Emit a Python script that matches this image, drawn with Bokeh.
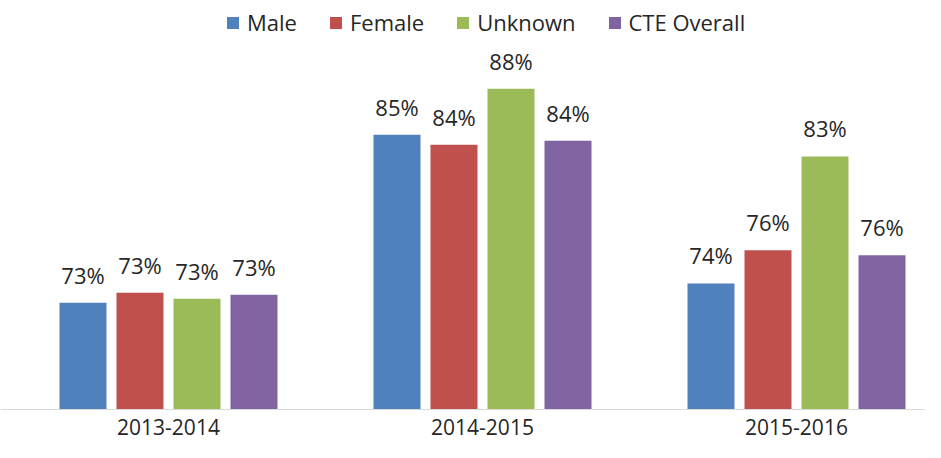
from bokeh.plotting import figure
from bokeh.models import ColumnDataSource, LabelSet, Range1d, FixedTicker
from bokeh.core.properties import value
from bokeh.embed import file_html
from bokeh.resources import INLINE

years = ["2013-2014", "2014-2015", "2015-2016"]
series = ["Male", "Female", "Unknown", "CTE Overall"]
male = [0.7260, 0.8478, 0.7400]
female = [0.7332, 0.8405, 0.7641]
unknown = [0.7289, 0.8811, 0.8321]
cte = [0.7318, 0.8434, 0.7605]
colors = ["#4F81BD", "#C0504D", "#9BBB59", "#8064A2"]
axis_min = 0.649

values = [male, female, unknown, cte]
offsets = [-0.2723, -0.0908, 0.0908, 0.2723]
bar_w = 0.1497

W, H = 925, 442
px_per_unit = 1379.3
base_from_top = 408.5
y_end = axis_min + base_from_top / px_per_unit
y_start = y_end - H / px_per_unit
x_start = -168.0 / 314.0

p = figure(width=W, height=H, output_backend="svg", toolbar_location=None,
           x_range=Range1d(x_start, x_start + W / 314.0),
           y_range=Range1d(y_start, y_end),
           min_border_left=0, min_border_right=0, min_border_top=0, min_border_bottom=0)

font = "Open Sans"
txt_color = "#262626"

for name, vals, off, col in zip(series, values, offsets, colors):
    src = ColumnDataSource(dict(
        x=[i + off for i in range(len(years))],
        top=vals,
        bottom=[axis_min] * len(vals),
        label=[f"{round(v * 100)}%" for v in vals],
    ))
    p.vbar(x="x", top="top", bottom="bottom", width=bar_w, source=src,
           fill_color=col, line_color=None, legend_label=name)
    p.add_layout(LabelSet(x="x", y="top", text="label", source=src,
                          text_align="center", text_baseline="alphabetic",
                          y_offset=19, text_font=value(font),
                          text_font_size=value("22px"),
                          text_color=txt_color))

p.xgrid.visible = False
p.ygrid.visible = False
p.outline_line_color = None
p.yaxis.visible = False

xa = p.xaxis[0]
xa.fixed_location = axis_min
xa.ticker = FixedTicker(ticks=list(range(len(years))))
xa.major_label_overrides = {i: y for i, y in enumerate(years)}
xa.axis_line_color = "#D9D9D9"
xa.axis_line_width = 1
xa.major_tick_line_color = None
xa.minor_tick_line_color = None
xa.major_label_standoff = 4
xa.major_label_text_font = font
xa.major_label_text_font_size = "21px"
xa.major_label_text_color = txt_color

lg = p.legend[0]
lg.orientation = "horizontal"
lg.location = (225, 405)
lg.glyph_width = 15
lg.glyph_height = 15
lg.label_standoff = 7
lg.spacing = 31
lg.padding = 0
lg.margin = 0
lg.border_line_color = None
lg.background_fill_alpha = 0
lg.label_text_font = font
lg.label_text_font_size = "22px"
lg.label_text_color = txt_color

open("out.html", "w").write(file_html(p, INLINE))
